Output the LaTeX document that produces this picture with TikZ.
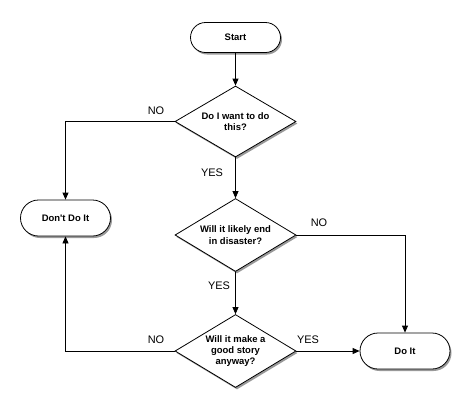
\documentclass[tikz,border=0pt]{standalone}
\usepackage{fontspec}
\setmainfont{Liberation Sans}
\usetikzlibrary{shapes.geometric,shadows,arrows.meta}
\begin{document}
\begin{tikzpicture}[x=1bp,y=-1bp,
  term/.style={draw,line width=0.8bp,fill=white,rounded corners=15bp,minimum width=90bp,minimum height=30bp,
    font=\bfseries\fontsize{9.5}{11}\selectfont,
    drop shadow={shadow xshift=1.5bp,shadow yshift=-2bp,opacity=0.4,fill=black}},
  decision/.style={draw,line width=0.8bp,fill=white,diamond,aspect=1.75,inner sep=0pt,
    minimum width=121bp,minimum height=71bp,align=center,
    font=\bfseries\fontsize{9.5}{11.5}\selectfont,
    drop shadow={shadow xshift=1.5bp,shadow yshift=-2bp,opacity=0.4,fill=black}},
  conn/.style={line width=0.8bp,-{Triangle[length=7bp,width=6bp]}},
  lbl/.style={font=\fontsize{11}{13}\selectfont}]
\useasboundingbox (0,0) rectangle (470,411);
\node[term] (start) at (235.5,37.5) {Start};
\node[decision] (q1) at (235.5,121.5) {Do I want to do\\this?};
\node[term,minimum height=36bp,rounded corners=18bp] (dont) at (65.5,218) {Don\textquotesingle t Do It};
\node[decision,minimum height=73bp] (q2) at (235.5,235) {Will it likely end\\in disaster?};
\node[decision,minimum height=73bp] (q3) at (235.5,351) {Will it make a\\good story\\anyway?};
\node[term,minimum height=36bp,rounded corners=18bp] (doit) at (405,351) {Do It};
\draw[conn] (start) -- (q1);
\draw[conn] (q1.west) -| (dont.north);
\draw[conn] (q1.south) -- (q2.north);
\draw[conn] (q2.east) -| (doit.north);
\draw[conn] (q2.south) -- (q3.north);
\draw[conn] (q3.west) -| (dont.south);
\draw[conn] (q3.east) -- (doit.west);
\node[lbl] (l1) at (156,111) {NO};
\node[lbl] (l2) at (212,173) {YES};
\node[lbl] (l3) at (319,223) {NO};
\node[lbl] (l4) at (219,286) {YES};
\node[lbl] (l5) at (156,340) {NO};
\node[lbl] (l6) at (308,340) {YES};
\end{tikzpicture}
\end{document}
